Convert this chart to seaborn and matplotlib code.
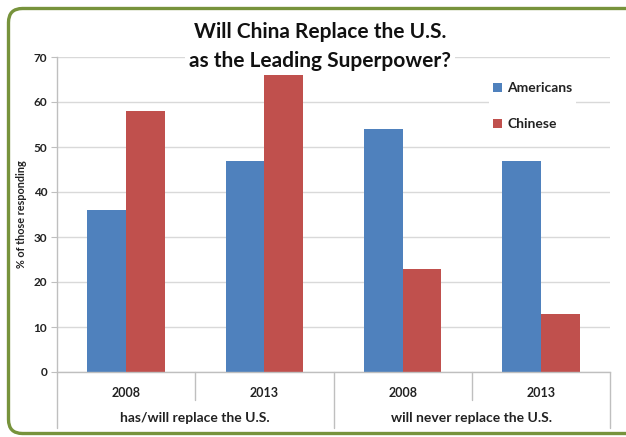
import matplotlib
matplotlib.use("Agg")
import matplotlib.pyplot as plt
from matplotlib.patches import FancyBboxPatch
from matplotlib.transforms import blended_transform_factory
import seaborn as sns
import pandas as pd

# ---- data ----
groups = ["has/will replace the U.S.", "has/will replace the U.S.",
          "will never replace the U.S.", "will never replace the U.S."]
years = ["2008", "2013", "2008", "2013"]
americans = [36, 47, 54, 47]
chinese = [58, 66, 23, 13]
series = ["Americans", "Chinese"]
colors = ["#4F81BD", "#C0504D"]
yticks = [0, 10, 20, 30, 40, 50, 60, 70]

slots = [f"{g}|{y}" for g, y in zip(groups, years)]
df = pd.DataFrame({
    "slot": slots * 2,
    "value": americans + chinese,
    "who": [series[0]] * 4 + [series[1]] * 4,
})

sns.set_theme(style="white")
plt.rcParams["font.family"] = ["Lato", "DejaVu Sans"]

W, H = 626, 437
fig = plt.figure(figsize=(W / 100, H / 100), dpi=100)
fig.patch.set_facecolor("white")

# green rounded frame
frame = FancyBboxPatch((0.085, 0.035), 6.6, 4.25,
                       boxstyle="round,pad=0,rounding_size=0.14",
                       transform=fig.dpi_scale_trans, facecolor="white",
                       edgecolor="#77933C", linewidth=2.4, zorder=0)
fig.add_artist(frame)

L, R, T, B = 57, 610, 57, 372
ax = fig.add_axes([L / W, (H - B) / H, (R - L) / W, (B - T) / H])
ax.set_facecolor("none")

sns.barplot(data=df, x="slot", y="value", hue="who", hue_order=series,
            palette=colors, width=0.56, gap=0, saturation=1,
            edgecolor="none", linewidth=0, ax=ax, legend=True)

ax.set_ylim(0, 70)
ax.set_xlim(-0.5, 3.5)
ax.set_yticks(yticks)
ax.set_yticklabels([str(v) for v in yticks], fontsize=8.5, fontweight="bold", color="#222222")
ax.yaxis.grid(True, color="#D9D9D9", linewidth=1.0)
ax.set_axisbelow(True)
ax.tick_params(axis="y", length=4, width=0.8, color="#BFBFBF", pad=3, left=True)
ax.tick_params(axis="x", length=0, pad=11)
ax.set_xticks(range(4))
ax.set_xticklabels(years, fontsize=9, fontweight="bold", color="#222222")
ax.set_xlabel("")
ax.set_ylabel("% of those responding", fontsize=7.8, fontweight="bold", color="#222222", labelpad=5)
for s in ["top", "right"]:
    ax.spines[s].set_visible(False)
for s in ["left", "bottom"]:
    ax.spines[s].set_color("#BFBFBF")
    ax.spines[s].set_linewidth(1.0)

# category separators
tr = blended_transform_factory(ax.transData, ax.transAxes)
ph = B - T
short = -(400 - B) / ph
long_ = -(428 - B) / ph
for xpos, yend in [(-0.5, long_), (0.5, short), (1.5, long_), (2.5, short), (3.5, long_)]:
    ax.plot([xpos, xpos], [0, yend], transform=tr, color="#BFBFBF",
            linewidth=1.0, clip_on=False)

# group labels
for xc, g in [(0.5, groups[0]), (2.5, groups[2])]:
    ax.text(xc, -(418 - B) / ph, g, transform=tr, ha="center", va="center",
            fontsize=10, fontweight="bold", color="#222222")

# legend
leg = ax.legend(loc="upper left", bbox_to_anchor=((489 - L) / (R - L), 1 - (78 - T) / ph),
                frameon=True, fontsize=10, handlelength=0.6, handleheight=0.6,
                handletextpad=0.4, labelspacing=1.75, borderpad=0.3, borderaxespad=0)
leg.get_frame().set_facecolor("white")
leg.get_frame().set_edgecolor("none")
leg.get_frame().set_alpha(1)
for t in leg.get_texts():
    t.set_fontweight("bold")
    t.set_color("#222222")

# title
fig.text(320 / W, 1 - 32 / H, "Will China Replace the U.S.", ha="center", va="center",
         fontsize=15, fontweight="bold", color="#111111")
fig.text(320 / W, 1 - 61 / H, "as the Leading Superpower?", ha="center", va="center",
         fontsize=15, fontweight="bold", color="#111111",
         bbox=dict(facecolor="white", edgecolor="none", pad=3))

fig.savefig("out.png", dpi=100, facecolor="white")
